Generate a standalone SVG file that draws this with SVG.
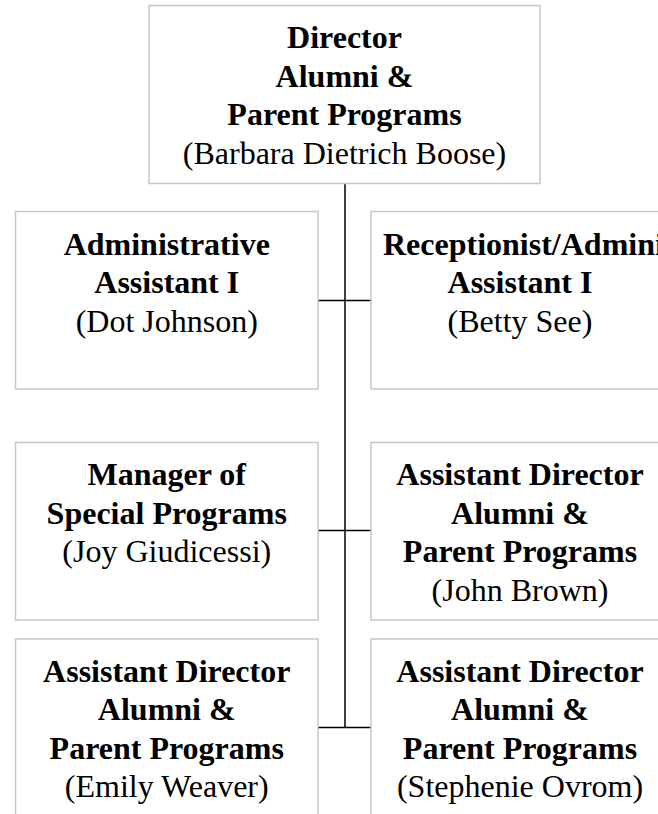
<svg xmlns="http://www.w3.org/2000/svg" width="658" height="814" viewBox="0 0 658 814">
<style>
.box{fill:#fff;stroke:#c8c8c8;stroke-width:1.5}
.t{font-family:"Liberation Serif","Times New Roman",serif;font-size:32px;fill:#000;text-anchor:middle}
.b{font-weight:bold}
.ln{stroke:#000;stroke-width:1.5;fill:none}
</style>
<rect width="658" height="814" fill="#fff"/>
<g id="connectors">
<path class="ln" d="M345 183.5V728M318 300.5H371M318 530.5H371M318 727.5H371"/>
</g>
<g id="director">
<rect class="box" x="149" y="5.5" width="391" height="178"/>
<text class="t b" x="344.5" y="48">Director</text>
<text class="t b" x="344.5" y="86.5">Alumni &amp;</text>
<text class="t b" x="344.5" y="125">Parent Programs</text>
<text class="t" x="344.5" y="163.5">(Barbara Dietrich Boose)</text>
</g>
<g id="admin-assistant">
<rect class="box" x="15.5" y="211.5" width="302.5" height="177.5"/>
<text class="t b" x="166.75" y="254.5">Administrative</text>
<text class="t b" x="166.75" y="293">Assistant I</text>
<text class="t" x="166.75" y="331.5">(Dot Johnson)</text>
</g>
<g id="receptionist">
<rect class="box" x="371" y="211.5" width="300" height="177.5"/>
<text class="t b" x="383" y="254.5" style="text-anchor:start">Receptionist/Adminis</text>
<text class="t b" x="520" y="293">Assistant I</text>
<text class="t" x="520" y="331.5">(Betty See)</text>
</g>
<g id="manager-special">
<rect class="box" x="15.5" y="442.5" width="302.5" height="177.5"/>
<text class="t b" x="166.75" y="485">Manager of</text>
<text class="t b" x="166.75" y="523.5">Special Programs</text>
<text class="t" x="166.75" y="562">(Joy Giudicessi)</text>
</g>
<g id="asst-dir-brown">
<rect class="box" x="371" y="442.5" width="300" height="177.5"/>
<text class="t b" x="520" y="485">Assistant Director</text>
<text class="t b" x="520" y="523.5">Alumni &amp;</text>
<text class="t b" x="520" y="562">Parent Programs</text>
<text class="t" x="520" y="600.5">(John Brown)</text>
</g>
<g id="asst-dir-weaver">
<rect class="box" x="15.5" y="639" width="302.5" height="177.5"/>
<text class="t b" x="166.75" y="681.5">Assistant Director</text>
<text class="t b" x="166.75" y="720">Alumni &amp;</text>
<text class="t b" x="166.75" y="758.5">Parent Programs</text>
<text class="t" x="166.75" y="797">(Emily Weaver)</text>
</g>
<g id="asst-dir-ovrom">
<rect class="box" x="371" y="639" width="300" height="177.5"/>
<text class="t b" x="520" y="681.5">Assistant Director</text>
<text class="t b" x="520" y="720">Alumni &amp;</text>
<text class="t b" x="520" y="758.5">Parent Programs</text>
<text class="t" x="520" y="797">(Stephenie Ovrom)</text>
</g>
</svg>
